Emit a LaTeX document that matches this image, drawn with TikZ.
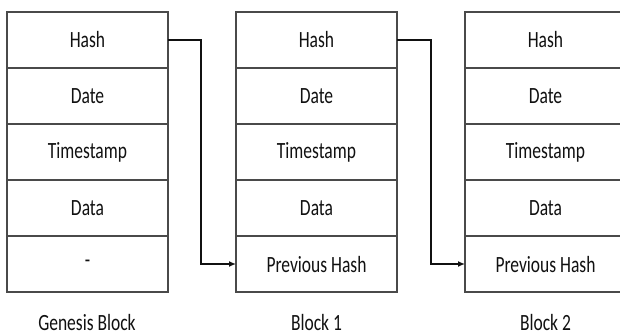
\documentclass[tikz,border=0pt]{standalone}
\usepackage{fontspec}
\setmainfont{Carlito}
\usetikzlibrary{arrows.meta}
\definecolor{boxline}{HTML}{4A4A4A}
\definecolor{txt}{HTML}{111111}
\newcommand{\tallt}[1]{\scalebox{1}[1.33]{#1}}
\tikzset{
  cell/.style={draw=boxline, line width=1.4pt, minimum width=161pt, minimum height=56pt,
    inner sep=0pt, outer sep=0pt, anchor=north west, text=txt,
    font=\fontsize{17.5pt}{20pt}\selectfont},
  caption/.style={text=txt, font=\fontsize{17.5pt}{20pt}\selectfont, inner sep=0pt},
  link/.style={draw=txt, line width=1.4pt, -{Latex[length=7pt,width=6pt]}}
}
\begin{document}
\begin{tikzpicture}[x=1pt,y=-1pt]
\useasboundingbox[fill=white] (0,0) rectangle (620,335);
% Genesis block
\node[cell] (g1) at (7,12) {\tallt{Hash}};
\node[cell] (g2) at (7,68) {\tallt{Date}};
\node[cell] (g3) at (7,124) {\tallt{Timestamp}};
\node[cell] (g4) at (7,180) {\tallt{Data}};
\node[cell] (g5) at (7,236) {\tallt{-}};
% Block 1
\node[cell] (a1) at (236,12) {\tallt{Hash}};
\node[cell] (a2) at (236,68) {\tallt{Date}};
\node[cell] (a3) at (236,124) {\tallt{Timestamp}};
\node[cell] (a4) at (236,180) {\tallt{Data}};
\node[cell] (a5) at (236,236) {\tallt{Previous Hash}};
% Block 2
\node[cell] (b1) at (465,12) {\tallt{Hash}};
\node[cell] (b2) at (465,68) {\tallt{Date}};
\node[cell] (b3) at (465,124) {\tallt{Timestamp}};
\node[cell] (b4) at (465,180) {\tallt{Data}};
\node[cell] (b5) at (465,236) {\tallt{Previous Hash}};
% captions
\node[caption, anchor=base] (cg) at (87,330) {\tallt{Genesis Block}};
\node[caption, anchor=base] (ca) at (316.5,330) {\tallt{Block 1}};
\node[caption, anchor=base] (cb) at (545.5,330) {\tallt{Block 2}};
% links
\draw[link] (g1.east) -| (201,264) -- (a5.west |- 0,264);
\draw[link] (a1.east) -| (431,264) -- (b5.west |- 0,264);
\end{tikzpicture}
\end{document}
